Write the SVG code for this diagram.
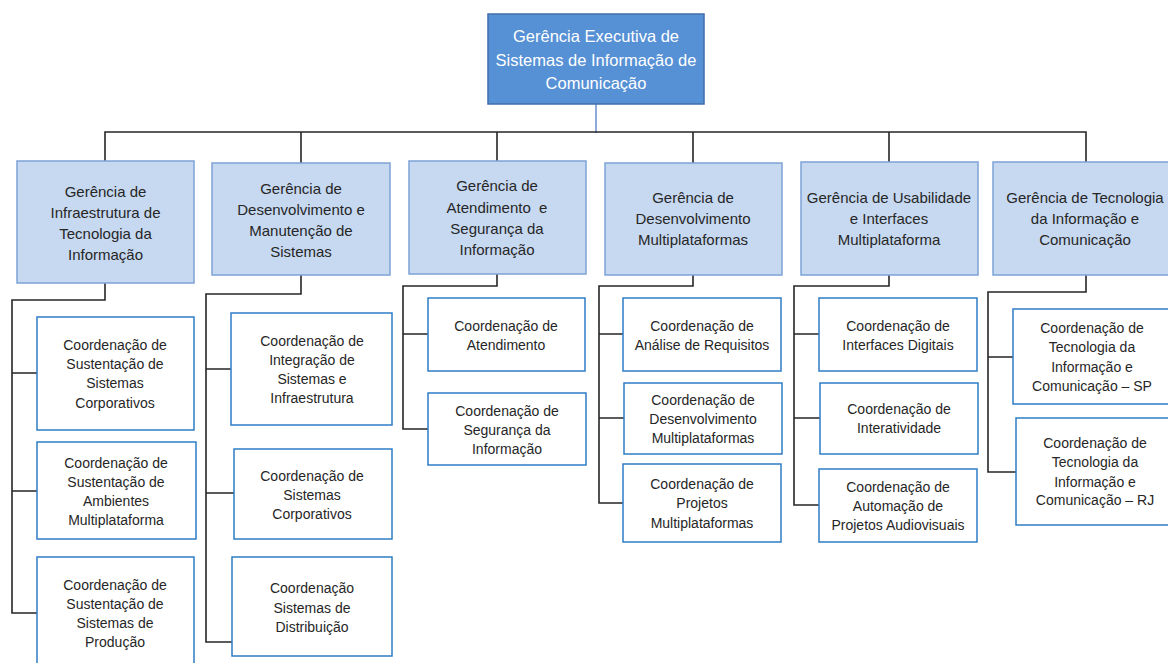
<svg xmlns="http://www.w3.org/2000/svg" width="1168" height="663" viewBox="0 0 1168 663">
<style>
text{font-family:"Liberation Sans",Arial,sans-serif;text-anchor:middle}
.top rect{fill:#5690D5;stroke:#3F6FA8;stroke-width:1.5}
.top text{fill:#fff;font-size:16.5px}
.g2 rect{fill:#C6D9F1;stroke:#7EA2D6;stroke-width:1.5}
.g2 text{fill:#262626;font-size:15px}
.c3 rect{fill:#fff;stroke:#2E7CC4;stroke-width:1.5}
.c3 text{fill:#262626;font-size:14px}
.conn path{fill:none;stroke:#262626;stroke-width:1.6}
</style>
<rect width="1168" height="663" fill="#fff"/>
<g id="connectors" class="conn">
<path d="M596,104 V133" style="stroke:#4472C4;stroke-width:1.2"/>
<path d="M105,161 V132 H1086 V162"/>
<path d="M301,132 V163 M497,132 V161 M693,132 V163 M889,132 V162"/>
<path d="M105,283 V300 H12 V613 H37 M12,373 H37 M12,491 H37"/>
<path d="M301,275 V294 H206 V642 H232 M206,369 H231 M206,493 H234"/>
<path d="M497,274 V286 H403 V429 H428 M403,334 H428"/>
<path d="M693,275 V286 H599 V503 H623 M599,334 H623 M599,418 H624"/>
<path d="M889,275 V286 H794 V505 H819 M794,334 H819 M794,418 H820"/>
<path d="M1086,275 V292 H988 V472 H1016 M988,357 H1013"/>
</g>
<g id="n0" class="top"><rect x="488" y="14" width="216" height="90"/>
<text x="596" y="42">Gerência Executiva de</text><text x="596" y="66">Sistemas de Informação de</text><text x="596" y="89">Comunicação</text></g>
<g id="g1" class="g2"><rect x="17" y="161" width="177" height="122"/>
<text x="105.5" y="197">Gerência de</text><text x="105.5" y="218">Infraestrutura de</text><text x="105.5" y="239">Tecnologia da</text><text x="105.5" y="260">Informação</text></g>
<g id="g2" class="g2"><rect x="212" y="163" width="178" height="112"/>
<text x="301" y="194">Gerência de</text><text x="301" y="215">Desenvolvimento e</text><text x="301" y="236">Manutenção de</text><text x="301" y="257">Sistemas</text></g>
<g id="g3" class="g2"><rect x="409" y="161" width="177" height="113"/>
<text x="497" y="191">Gerência de</text><text x="497" y="213" xml:space="preserve">Atendimento  e</text><text x="497" y="234">Segurança da</text><text x="497" y="255">Informação</text></g>
<g id="g4" class="g2"><rect x="605" y="163" width="177" height="112"/>
<text x="693" y="203">Gerência de</text><text x="693" y="224">Desenvolvimento</text><text x="693" y="245">Multiplataformas</text></g>
<g id="g5" class="g2"><rect x="801" y="162" width="177" height="113"/>
<text x="889" y="203">Gerência de Usabilidade</text><text x="889" y="224">e Interfaces</text><text x="889" y="245">Multiplataforma</text></g>
<g id="g6" class="g2"><rect x="993" y="162" width="178" height="113"/>
<text x="1085" y="203">Gerência de Tecnologia</text><text x="1085" y="224">da Informação e</text><text x="1085" y="245">Comunicação</text></g>
<g id="c1a" class="c3"><rect x="37" y="317" width="157" height="113"/>
<text x="115" y="350">Coordenação de</text><text x="115" y="369">Sustentação de</text><text x="115" y="388">Sistemas</text><text x="115" y="408">Corporativos</text></g>
<g id="c1b" class="c3"><rect x="37" y="442" width="159" height="97"/>
<text x="116" y="468">Coordenação de</text><text x="116" y="487">Sustentação de</text><text x="116" y="506">Ambientes</text><text x="116" y="525">Multiplataforma</text></g>
<g id="c1c" class="c3"><rect x="37" y="557" width="157" height="113"/>
<text x="115" y="590">Coordenação de</text><text x="115" y="609">Sustentação de</text><text x="115" y="628">Sistemas de</text><text x="115" y="647">Produção</text></g>
<g id="c2a" class="c3"><rect x="231" y="313" width="161" height="112"/>
<text x="312" y="346">Coordenação de</text><text x="312" y="365">Integração de</text><text x="312" y="384">Sistemas e</text><text x="312" y="403">Infraestrutura</text></g>
<g id="c2b" class="c3"><rect x="234" y="449" width="158" height="90"/>
<text x="312" y="481">Coordenação de</text><text x="312" y="500">Sistemas</text><text x="312" y="519">Corporativos</text></g>
<g id="c2c" class="c3"><rect x="232" y="557" width="160" height="99"/>
<text x="312" y="593">Coordenação</text><text x="312" y="613">Sistemas de</text><text x="312" y="632">Distribuição</text></g>
<g id="c3a" class="c3"><rect x="428" y="298" width="157" height="73"/>
<text x="506" y="331">Coordenação de</text><text x="506" y="350">Atendimento</text></g>
<g id="c3b" class="c3"><rect x="428" y="393" width="158" height="72"/>
<text x="507" y="416">Coordenação de</text><text x="507" y="435">Segurança da</text><text x="507" y="454">Informação</text></g>
<g id="c4a" class="c3"><rect x="623" y="298" width="158" height="73"/>
<text x="702" y="331">Coordenação de</text><text x="702" y="350">Análise de Requisitos</text></g>
<g id="c4b" class="c3"><rect x="624" y="383" width="158" height="71"/>
<text x="703" y="405">Coordenação de</text><text x="703" y="424">Desenvolvimento</text><text x="703" y="443">Multiplataformas</text></g>
<g id="c4c" class="c3"><rect x="623" y="464" width="158" height="78"/>
<text x="702" y="489">Coordenação de</text><text x="702" y="508">Projetos</text><text x="702" y="528">Multiplataformas</text></g>
<g id="c5a" class="c3"><rect x="819" y="298" width="158" height="73"/>
<text x="898" y="331">Coordenação de</text><text x="898" y="350">Interfaces Digitais</text></g>
<g id="c5b" class="c3"><rect x="820" y="383" width="158" height="71"/>
<text x="899" y="414">Coordenação de</text><text x="899" y="433">Interatividade</text></g>
<g id="c5c" class="c3"><rect x="819" y="469" width="158" height="73"/>
<text x="898" y="492">Coordenação de</text><text x="898" y="511">Automação de</text><text x="898" y="530">Projetos Audiovisuais</text></g>
<g id="c6a" class="c3"><rect x="1013" y="309" width="158" height="95"/>
<text x="1092" y="333">Coordenação de</text><text x="1092" y="352">Tecnologia da</text><text x="1092" y="372">Informação e</text><text x="1092" y="391">Comunicação – SP</text></g>
<g id="c6b" class="c3"><rect x="1016" y="418" width="158" height="107"/>
<text x="1095" y="448">Coordenação de</text><text x="1095" y="467">Tecnologia da</text><text x="1095" y="487">Informação e</text><text x="1095" y="505">Comunicação – RJ</text></g>
</svg>
